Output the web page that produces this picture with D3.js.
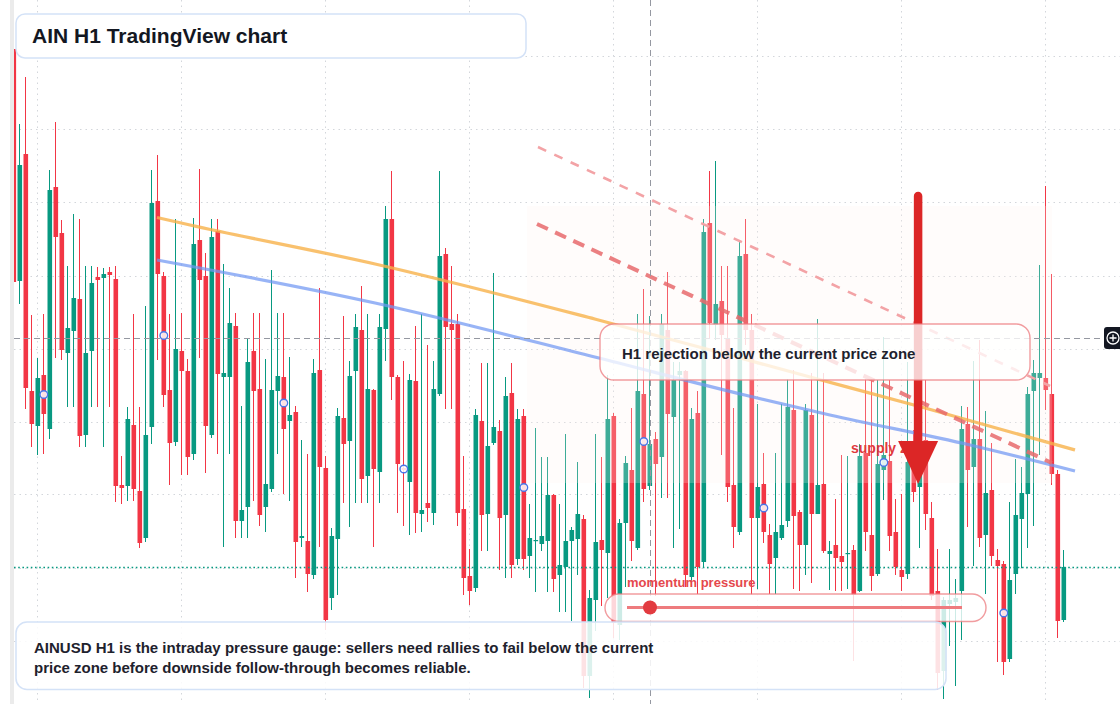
<!DOCTYPE html>
<html><head><meta charset="utf-8">
<script src="https://cdn.jsdelivr.net/npm/d3@7"></script>
<style>
html,body{margin:0;padding:0;background:#fff;}
svg{display:block;font-family:"Liberation Sans",Arial,Helvetica,sans-serif;}
</style>
</head><body>
<svg id="chart" width="1120" height="704"></svg>
<script>
// ---- DATA (AINUSD H1 candles) ----
const opens = [0.951,0.719,0.846,0.609,0.574,0.625,0.571,0.813,0.767,0.647,
0.669,0.701,0.565,0.649,0.723,0.722,0.728,0.721,0.515,0.514,
0.575,0.509,0.462,0.573,0.799,0.724,0.610,0.558,0.649,0.629,
0.546,0.760,0.724,0.565,0.769,0.623,0.623,0.674,0.479,0.493,
0.649,0.611,0.493,0.511,0.609,0.623,0.579,0.588,0.462,0.459,
0.425,0.630,0.532,0.402,0.461,0.582,0.559,0.629,0.670,0.524,
0.610,0.528,0.671,0.781,0.623,0.532,0.518,0.619,0.486,0.497,
0.487,0.606,0.746,0.676,0.676,0.491,0.424,0.412,0.579,0.486,
0.557,0.569,0.485,0.607,0.441,0.584,0.444,0.459,0.456,0.459,
0.505,0.425,0.433,0.459,0.461,0.481,0.324,0.400,0.460,0.447,
0.584,0.375,0.477,0.530,0.452,0.606,0.514,0.561,0.543,0.670,
0.583,0.625,0.629,0.423,0.587,0.438,0.777,0.675,0.699,0.662,
0.515,0.468,0.746,0.670,0.482,0.516,0.465,0.442,0.462,0.479,
0.590,0.488,0.455,0.585,0.486,0.516,0.446,0.455,0.444,0.446,
0.450,0.409,0.547,0.465,0.426,0.530,0.539,0.468,0.430,0.426,
0.539,0.513,0.560,0.482,0.409,0.329,0.396,0.398,0.409,0.576,
0.533,0.561,0.465,0.510,0.440,0.436,0.341,0.426,0.481,0.506,
0.609,0.622,0.622,0.606,0.526,0.380];
const highs = [0.953,0.876,0.923,0.685,0.642,0.686,0.830,0.878,0.780,0.734,
0.786,0.781,0.734,0.734,0.733,0.732,0.733,0.734,0.544,0.593,
0.686,0.593,0.694,0.830,0.845,0.728,0.686,0.781,0.687,0.641,
0.782,0.831,0.747,0.781,0.781,0.736,0.712,0.687,0.594,0.662,
0.687,0.687,0.641,0.730,0.687,0.687,0.643,0.594,0.560,0.546,
0.641,0.712,0.544,0.472,0.592,0.684,0.639,0.686,0.714,0.686,
0.611,0.686,0.794,0.829,0.625,0.639,0.626,0.674,0.686,0.655,
0.639,0.829,0.752,0.734,0.686,0.544,0.451,0.591,0.637,0.637,
0.727,0.580,0.623,0.637,0.591,0.591,0.496,0.572,0.543,0.543,
0.506,0.496,0.566,0.473,0.538,0.485,0.410,0.566,0.543,0.625,
0.587,0.481,0.544,0.592,0.686,0.711,0.684,0.568,0.686,0.728,
0.638,0.638,0.630,0.592,0.609,0.781,0.829,0.839,0.734,0.734,
0.592,0.759,0.781,0.686,0.596,0.547,0.476,0.547,0.596,0.621,
0.630,0.490,0.596,0.627,0.681,0.627,0.459,0.501,0.545,0.544,
0.455,0.556,0.621,0.621,0.620,0.663,0.620,0.501,0.506,0.638,
0.570,0.560,0.620,0.498,0.451,0.403,0.451,0.421,0.594,0.593,
0.639,0.660,0.589,0.557,0.451,0.439,0.498,0.541,0.533,0.613,
0.640,0.735,0.814,0.726,0.530,0.450];
const lows = [0.716,0.696,0.591,0.553,0.545,0.546,0.561,0.642,0.640,0.593,
0.593,0.553,0.553,0.593,0.593,0.553,0.593,0.498,0.496,0.499,
0.499,0.452,0.458,0.556,0.640,0.593,0.515,0.554,0.525,0.525,
0.540,0.642,0.527,0.562,0.546,0.453,0.546,0.462,0.462,0.462,
0.499,0.474,0.468,0.508,0.546,0.506,0.499,0.422,0.453,0.408,
0.421,0.453,0.370,0.390,0.405,0.497,0.473,0.497,0.497,0.497,
0.453,0.497,0.639,0.600,0.487,0.474,0.465,0.467,0.468,0.478,
0.475,0.604,0.591,0.591,0.474,0.405,0.395,0.408,0.449,0.449,
0.555,0.430,0.422,0.422,0.435,0.430,0.422,0.408,0.449,0.408,
0.408,0.388,0.388,0.379,0.425,0.312,0.302,0.369,0.394,0.402,
0.362,0.360,0.413,0.439,0.450,0.498,0.510,0.404,0.502,0.502,
0.452,0.471,0.413,0.413,0.406,0.433,0.661,0.660,0.545,0.498,
0.452,0.465,0.655,0.405,0.411,0.457,0.406,0.406,0.460,0.473,
0.411,0.409,0.425,0.417,0.486,0.447,0.410,0.409,0.409,0.411,
0.339,0.408,0.449,0.409,0.424,0.500,0.449,0.425,0.409,0.421,
0.498,0.452,0.470,0.400,0.310,0.301,0.354,0.314,0.360,0.473,
0.434,0.453,0.406,0.434,0.338,0.325,0.338,0.406,0.432,0.452,
0.474,0.545,0.590,0.515,0.362,0.378];
const closes = [0.718,0.835,0.612,0.576,0.622,0.586,0.810,0.763,0.650,0.672,
0.702,0.564,0.647,0.717,0.720,0.726,0.725,0.514,0.512,0.581,
0.511,0.457,0.565,0.797,0.726,0.605,0.557,0.651,0.629,0.543,
0.756,0.720,0.574,0.763,0.626,0.627,0.677,0.479,0.490,0.638,
0.609,0.485,0.516,0.610,0.624,0.571,0.585,0.458,0.464,0.426,
0.627,0.533,0.380,0.464,0.584,0.556,0.624,0.673,0.521,0.611,
0.531,0.673,0.781,0.623,0.536,0.530,0.620,0.487,0.490,0.492,
0.611,0.744,0.673,0.670,0.487,0.422,0.409,0.585,0.485,0.554,
0.573,0.482,0.604,0.435,0.581,0.441,0.462,0.460,0.464,0.505,
0.421,0.435,0.459,0.470,0.486,0.324,0.402,0.458,0.450,0.581,
0.377,0.477,0.537,0.459,0.609,0.511,0.556,0.536,0.676,0.586,
0.620,0.629,0.425,0.581,0.433,0.768,0.677,0.696,0.665,0.513,
0.473,0.744,0.670,0.482,0.513,0.468,0.436,0.468,0.475,0.593,
0.484,0.455,0.590,0.486,0.515,0.449,0.449,0.442,0.438,0.447,
0.405,0.544,0.468,0.424,0.536,0.545,0.464,0.433,0.423,0.538,
0.508,0.537,0.486,0.404,0.327,0.400,0.400,0.402,0.571,0.530,
0.561,0.462,0.507,0.444,0.434,0.338,0.420,0.485,0.507,0.606,
0.627,0.627,0.610,0.526,0.379,0.433];

// time grid (bar index) and price grid
const timeGridBars = [4, 28, 52, 76, 100, 124, 148, 172];
const priceGrid = [0.944, 0.871, 0.798, 0.724, 0.651, 0.578, 0.506, 0.432, 0.359];

// drawings (bar index, price)
const orangeLine = [[23.95,0.7825],[29.45,0.775],[60.3,0.736],[96.9,0.681],[132.8,0.623],[151.95,0.592],[176.95,0.550]];
const blueLine = [[23.95,0.740],[60.3,0.697],[96.9,0.643],[121.9,0.605],[136.1,0.585],[159.45,0.555],[176.95,0.529]];
const lightDash = [[87.45,0.853],[172.8,0.614]];
const heavyDash = [[87.28,0.776],[173.1,0.537]];
const supplyZone = {x0:85.6, x1:173.1, top:0.794, bottom:0.517};
const crossBar = 106.1, crossPrice = 0.662;
const arrowBar = 150.8, arrowTop = 0.804, arrowHeadTop = 0.559, arrowTip = 0.516;
const markerEvery = 20, markerStart = 5;

const titleText = "AIN H1 TradingView chart";
const noteText = "H1 rejection below the current price zone";
const gaugeText = "momentum pressure";
const zoneText = "supply zone";
const footLines = ["AINUSD H1 is the intraday pressure gauge: sellers need rallies to fail below the current",
                   "price zone before downside follow-through becomes reliable."];

// ---- CHART ----
const W = 1120, H = 704;
const UP = "#089981", DN = "#f23645";
const svg = d3.select("#chart");
const x = d3.scaleLinear().domain([0, 175]).range([13.3, 1063.3]);
const y = d3.scaleLinear().domain([0.296, 1]).range([H, 0]);
const bodyW = 4.6;

const candles = opens.map((o, i) => ({i, o, h: highs[i], l: lows[i], c: closes[i]}));

svg.append("rect").attr("width", W).attr("height", H).attr("fill", "#fff");

// grid
const grid = svg.append("g").attr("stroke", "#d3d6db").attr("stroke-width", 1).attr("stroke-dasharray", "1.5,4");
grid.selectAll(".hg").data(priceGrid).join("line")
  .attr("x1", 14).attr("x2", W).attr("y1", d => Math.round(y(d)) + 0.5).attr("y2", d => Math.round(y(d)) + 0.5);
grid.selectAll(".vg").data(timeGridBars).join("line")
  .attr("y1", 0).attr("y2", H).attr("x1", d => Math.round(x(d)) + 0.5).attr("x2", d => Math.round(x(d)) + 0.5);

// left strip
svg.append("rect").attr("x", 10).attr("y", 0).attr("width", 4).attr("height", H).attr("fill", "#ebebeb");

svg.append("clipPath").attr("id", "plot").append("rect").attr("x", 14).attr("y", 0).attr("width", W - 14).attr("height", H);
const cg = svg.append("g").attr("clip-path", "url(#plot)");

const cd = cg.selectAll("g.c").data(candles).join("g").attr("class", "c")
  .attr("fill", d => d.c >= d.o ? UP : DN).attr("stroke", d => d.c >= d.o ? UP : DN);
cd.append("line").attr("stroke-width", 1)
  .attr("x1", d => Math.round(x(d.i)) + 0.5).attr("x2", d => Math.round(x(d.i)) + 0.5)
  .attr("y1", d => y(d.h)).attr("y2", d => y(d.l));
cd.append("rect").attr("stroke", "none")
  .attr("x", d => x(d.i) - bodyW / 2 + 0.5).attr("width", bodyW)
  .attr("y", d => y(Math.max(d.o, d.c)))
  .attr("height", d => Math.max(1.2, Math.abs(y(d.o) - y(d.c))));

// supply zone overlay
svg.append("rect")
  .attr("x", x(supplyZone.x0)).attr("width", x(supplyZone.x1) - x(supplyZone.x0))
  .attr("y", y(supplyZone.top)).attr("height", y(supplyZone.bottom) - y(supplyZone.top))
  .attr("fill", "rgb(253,240,235)").attr("fill-opacity", 0.22);

// trend lines
const line = d3.line().x(d => x(d[0])).y(d => y(d[1])).curve(d3.curveMonotoneX);
svg.append("path").datum(orangeLine).attr("d", line).attr("fill", "none")
  .attr("stroke", "#f7b24a").attr("stroke-opacity", 0.8).attr("stroke-width", 3.2);
svg.append("path").datum(blueLine).attr("d", line).attr("fill", "none")
  .attr("stroke", "#7097f3").attr("stroke-opacity", 0.72).attr("stroke-width", 3.2);
svg.append("path").datum(lightDash).attr("d", d3.line().x(d => x(d[0])).y(d => y(d[1]))).attr("fill", "none")
  .attr("stroke", "#f3a3a6").attr("stroke-width", 2.6).attr("stroke-dasharray", "9,9");
svg.append("path").datum(heavyDash).attr("d", d3.line().x(d => x(d[0])).y(d => y(d[1]))).attr("fill", "none")
  .attr("stroke", "#e86a6c").attr("stroke-opacity", 0.85).attr("stroke-width", 4).attr("stroke-dasharray", "12,8");

// last price line
const lastY = Math.round(y(closes[closes.length - 1])) + 0.5;
svg.append("line").attr("x1", 14).attr("x2", W).attr("y1", lastY).attr("y2", lastY)
  .attr("stroke", "#089981").attr("stroke-width", 1.4).attr("stroke-dasharray", "1.6,2.6");

// crosshair
svg.append("line").attr("x1", 14).attr("x2", 1104).attr("y1", Math.round(y(crossPrice)) + 0.5).attr("y2", Math.round(y(crossPrice)) + 0.5)
  .attr("stroke", "#9598a1").attr("stroke-dasharray", "6,4");
svg.append("line").attr("y1", 0).attr("y2", H).attr("x1", Math.round(x(crossBar)) + 0.5).attr("x2", Math.round(x(crossBar)) + 0.5)
  .attr("stroke", "#9598a1").attr("stroke-dasharray", "6,4");

// markers
const marks = candles.filter(d => d.i % markerEvery === markerStart);
svg.selectAll("circle.mk").data(marks).join("circle").attr("class", "mk")
  .attr("cx", d => x(d.i) + 0.5).attr("cy", d => y((d.o + d.c) / 2)).attr("r", 3.8)
  .attr("fill", "#fff").attr("fill-opacity", 0.85).attr("stroke", "#4a76e8").attr("stroke-width", 1.4);

// supply zone label
svg.append("text").attr("x", 851).attr("y", 453).text(zoneText)
  .attr("font-size", 14).attr("font-weight", 700).attr("fill", "#e0393e");

// arrow
const ax = x(arrowBar);
svg.append("line").attr("x1", ax).attr("x2", ax).attr("y1", y(arrowTop)).attr("y2", y(arrowHeadTop) + 4)
  .attr("stroke", "#dc2626").attr("stroke-width", 8.5).attr("stroke-linecap", "round");
svg.append("path")
  .attr("d", `M${ax - 20},${y(arrowHeadTop)} L${ax + 20},${y(arrowHeadTop)} L${ax},${y(arrowTip)} Z`)
  .attr("fill", "#dc2626");

// note box
const nb = svg.append("g");
nb.append("rect").attr("x", 600).attr("y", 324).attr("width", 430).attr("height", 56).attr("rx", 14)
  .attr("fill", "#fff").attr("fill-opacity", 0.78).attr("stroke", "#ec7b7f").attr("stroke-opacity", 0.75).attr("stroke-width", 1.4);
nb.append("text").attr("x", 622).attr("y", 359).text(noteText)
  .attr("font-size", 15).attr("font-weight", 700).attr("fill", "#1e222d");

// momentum gauge
svg.append("text").attr("x", 627).attr("y", 587).text(gaugeText)
  .attr("font-size", 13).attr("font-weight", 700).attr("fill", "#e5484d");
svg.append("rect").attr("x", 605).attr("y", 594).attr("width", 381).attr("height", 27.5).attr("rx", 13.75)
  .attr("fill", "#fff").attr("fill-opacity", 0.8).attr("stroke", "#ec7b7f").attr("stroke-opacity", 0.75).attr("stroke-width", 1.4);
svg.append("line").attr("x1", 627).attr("x2", 962).attr("y1", 607.5).attr("y2", 607.5)
  .attr("stroke", "#ee7b7e").attr("stroke-width", 3);
svg.append("circle").attr("cx", 650).attr("cy", 607.5).attr("r", 7).attr("fill", "#e23b40");

// footer box
const fb = svg.append("g");
fb.append("rect").attr("x", 16).attr("y", 622).attr("width", 930).attr("height", 67.5).attr("rx", 11)
  .attr("fill", "#fff").attr("fill-opacity", 0.86).attr("stroke", "#d4e2f7").attr("stroke-width", 1.5);
fb.selectAll("text").data(footLines).join("text")
  .attr("x", 34).attr("y", (d, i) => 653 + i * 20).text(d => d)
  .attr("font-size", 15).attr("font-weight", 700).attr("fill", "#1e222d");

// title box
svg.append("rect").attr("x", 16).attr("y", 14).attr("width", 510).attr("height", 44).attr("rx", 9)
  .attr("fill", "#fff").attr("stroke", "#d4e2f7").attr("stroke-width", 1.5);
svg.append("text").attr("x", 32).attr("y", 43).text(titleText)
  .attr("font-size", 21).attr("font-weight", 700).attr("fill", "#131722");

// right-side crosshair button
const bt = svg.append("g");
bt.append("rect").attr("x", 1104).attr("y", 327).attr("width", 20).attr("height", 22).attr("rx", 3).attr("fill", "#131722");
bt.append("circle").attr("cx", 1113).attr("cy", 338).attr("r", 6).attr("fill", "none").attr("stroke", "#fff").attr("stroke-width", 1.3);
bt.append("path").attr("d", "M1109.5,338H1116.5M1113,334.5V341.5").attr("stroke", "#fff").attr("stroke-width", 1.3);
</script>
</body></html>
